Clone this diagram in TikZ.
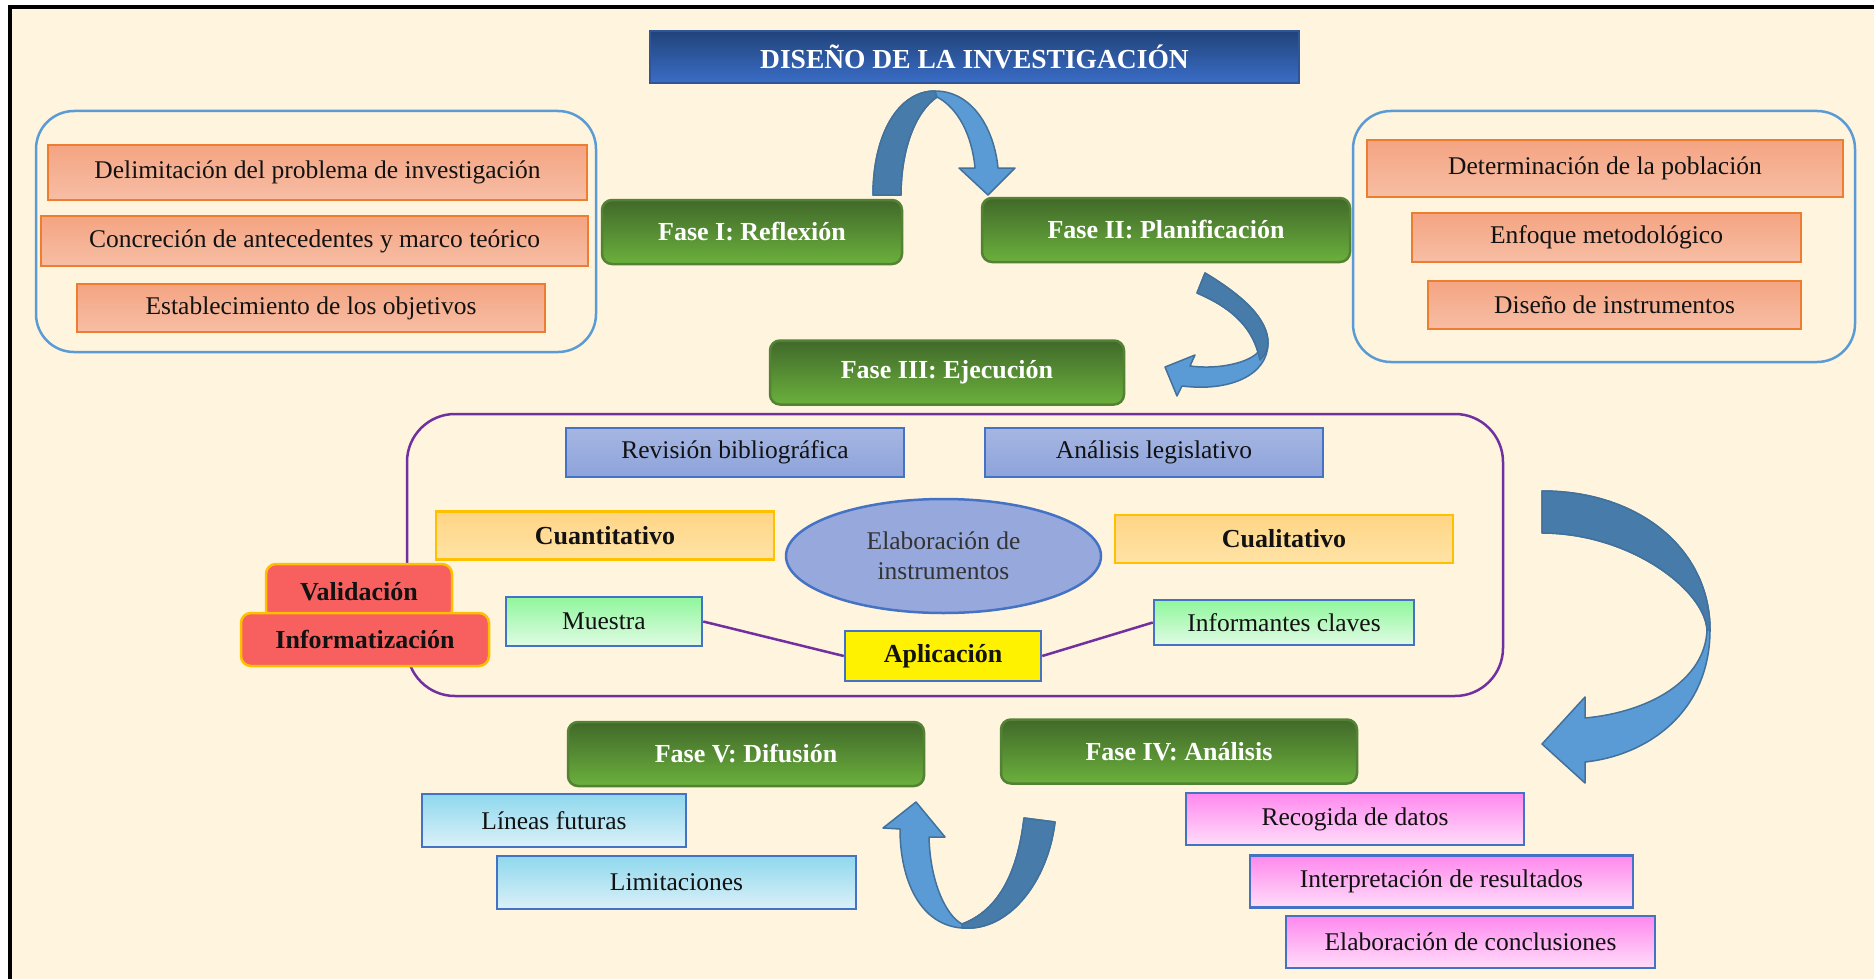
\documentclass[tikz,border=0pt]{standalone}
\usepackage{fontspec}
\setmainfont{Liberation Serif}
\usetikzlibrary{shapes.geometric}
\definecolor{paper}{HTML}{FFF4DD}
\definecolor{titletop}{HTML}{20437A}
\definecolor{titlebot}{HTML}{3B6DC8}
\definecolor{titleline}{HTML}{2F5597}
\definecolor{phasetop}{HTML}{41692A}
\definecolor{phasebot}{HTML}{6BB03C}
\definecolor{phaseline}{HTML}{548235}
\definecolor{salmontop}{HTML}{F4A482}
\definecolor{salmonbot}{HTML}{F7BEA5}
\definecolor{salmonline}{HTML}{ED7D31}
\definecolor{frameblue}{HTML}{5B9BD5}
\definecolor{boxline}{HTML}{4472C4}
\definecolor{purpleline}{HTML}{7030A0}
\definecolor{lavtop}{HTML}{A6B6E2}
\definecolor{lavbot}{HTML}{8EA3DB}
\definecolor{ellfill}{HTML}{97A9DC}
\definecolor{goldline}{HTML}{FFC000}
\definecolor{goldtop}{HTML}{FFD585}
\definecolor{goldbot}{HTML}{FFE3A6}
\definecolor{coral}{HTML}{F8605F}
\definecolor{minttop}{HTML}{8FF79C}
\definecolor{mintbot}{HTML}{E0FBE4}
\definecolor{skytop}{HTML}{8FD8EE}
\definecolor{skybot}{HTML}{DBF1F8}
\definecolor{pinktop}{HTML}{FF88EE}
\definecolor{pinkbot}{HTML}{FFDDF9}
\definecolor{arrowlight}{HTML}{5B9BD5}
\definecolor{arrowdark}{HTML}{467BAA}
\definecolor{arrowline}{HTML}{41719C}

\begin{document}
\begin{tikzpicture}[x=1pt, y=-1pt,
  every node/.style={inner sep=0pt, text=black!93, font=\fontsize{25.5}{30}\selectfont},
  boldtext/.style={font=\fontsize{26}{30}\selectfont\bfseries},
  titlebox/.style={draw=titleline, line width=2pt, top color=titletop, bottom color=titlebot,
    text=white, font=\fontsize{27.5}{30}\selectfont\bfseries},
  phase/.style={draw=phaseline, line width=2.5pt, rounded corners=10pt, top color=phasetop,
    bottom color=phasebot, text=white, boldtext, minimum height=64pt},
  salmonbox/.style={draw=salmonline, line width=2.5pt, top color=salmontop, bottom color=salmonbot},
  lavbox/.style={draw=boxline, line width=2.5pt, top color=lavtop, bottom color=lavbot,
    minimum width=338pt, minimum height=49pt},
  goldbox/.style={draw=goldline, line width=2.5pt, top color=goldtop, bottom color=goldbot,
    boldtext, minimum width=338pt, minimum height=48pt},
  redbox/.style={draw=goldline, line width=2.5pt, rounded corners=10pt, fill=coral, boldtext},
  mintbox/.style={draw=boxline, line width=2.5pt, top color=minttop, bottom color=mintbot},
  skybox/.style={draw=boxline, line width=2.5pt, top color=skytop, bottom color=skybot,
    minimum height=53pt},
  pinkbox/.style={draw=boxline, line width=2.5pt, top color=pinktop, bottom color=pinkbot,
    minimum height=52pt},
  holder/.style={line width=2.5pt},
  linkline/.style={purpleline, line width=2.5pt},
  bluearrow/.style={fill=arrowlight, draw=arrowline, line width=1.5pt, line join=round},
  darkarrow/.style={fill=arrowdark, draw=arrowline, line width=1.5pt, line join=round}]

  \useasboundingbox (0,0) rectangle (1874,979);
  % page
  \fill[paper] (9.5,7.5) rectangle (1874,979);
  \draw[black, line width=4pt] (9.5,979) -- (9.5,7.5) -- (1874,7.5);

  % title
  \node[titlebox, minimum width=649pt, minimum height=52pt] (title) at (974.5,57)
    {DISEÑO DE LA INVESTIGACIÓN};

  % phase I and its tasks
  \draw[holder, frameblue, rounded corners=38pt] (36,111) rectangle (596,352);
  \node[salmonbox, minimum width=539pt, minimum height=55pt] (delim) at (317.5,172.5)
    {Delimitación del problema de investigación};
  \node[salmonbox, minimum width=547pt, minimum height=50pt] (marco) at (314.5,241)
    {Concreción de antecedentes y marco teórico};
  \node[salmonbox, minimum width=468pt, minimum height=48pt] (objet) at (311,308)
    {Establecimiento de los objetivos};
  \node[phase, minimum width=300pt] (fase1) at (752,232) {Fase I: Reflexión};

  % phase II and its tasks
  \node[phase, minimum width=368pt] (fase2) at (1166,230) {Fase II: Planificación};
  \draw[holder, frameblue, rounded corners=38pt] (1353,111) rectangle (1855,362);
  \node[salmonbox, minimum width=476pt, minimum height=57pt] (pobla) at (1605,168.5)
    {Determinación de la población};
  \node[salmonbox, minimum width=389pt, minimum height=49pt] (enfoque) at (1606.5,237.5)
    {Enfoque metodológico};
  \node[salmonbox, minimum width=373pt, minimum height=48pt] (instru) at (1614.5,305)
    {Diseño de instrumentos};

  % phase III
  \node[phase, minimum width=354pt] (fase3) at (947,372.5) {Fase III: Ejecución};
  \draw[holder, purpleline, rounded corners=48pt] (407,414) rectangle (1503,696);
  \node[lavbox] (revis) at (735,452.5) {Revisión bibliográfica};
  \node[lavbox] (legis) at (1154,452.5) {Análisis legislativo};
  \node[goldbox] (cuanti) at (605,535.5) {Cuantitativo};
  \node[goldbox] (cuali) at (1284,539) {Cualitativo};
  \node[ellipse, draw=boxline, line width=2.5pt, fill=ellfill, minimum width=315pt,
    minimum height=114pt, align=center, text=black!80] (elabora) at (943.5,556)
    {Elaboración de\\instrumentos};
  \node[redbox, minimum width=186pt, minimum height=56pt] (valida) at (359,592) {Validación};
  \node[redbox, minimum width=248pt, minimum height=53pt] (informa) at (365,639.5)
    {Informatización};
  \node[mintbox, minimum width=196pt, minimum height=49pt] (muestra) at (604,621.5) {Muestra};
  \node[draw=boxline, line width=2.5pt, fill=yellow, boldtext, minimum width=196pt,
    minimum height=50pt] (aplica) at (943,656) {Aplicación};
  \node[mintbox, minimum width=260pt, minimum height=45pt] (clave) at (1284,622.5)
    {Informantes claves};
  \draw[linkline] (muestra.east) -- (aplica.west);
  \draw[linkline] (aplica.east) -- (clave.west);

  % phase IV and V
  \node[phase, minimum width=356pt] (fase4) at (1179,751.5) {Fase IV: Análisis};
  \node[phase, minimum width=356pt] (fase5) at (746,754) {Fase V: Difusión};
  \node[skybox, minimum width=264pt] (futuras) at (554,820.5) {Líneas futuras};
  \node[skybox, minimum width=359pt] (limita) at (676.5,882.5) {Limitaciones};
  \node[pinkbox, minimum width=338pt] (datos) at (1355,819) {Recogida de datos};
  \node[pinkbox, minimum width=383pt] (interp) at (1441.5,881.5) {Interpretación de resultados};
  \node[pinkbox, minimum width=369pt] (conclu) at (1470.5,942) {Elaboración de conclusiones};

  % curved arrows between the phases
  % I -> II
  \path[bluearrow] (873,195) .. controls (873,135) and (898,91) .. (935,91)
    .. controls (972,91) and (994,128) .. (998,168)
    -- (1015,168) -- (988,195) -- (959,168) -- (975,168)
    .. controls (972,135) and (958,108) .. (937,97)
    .. controls (915,112) and (901,150) .. (901,195) -- cycle;
  \path[darkarrow] (873,195) .. controls (873,135) and (898,91) .. (935,91)
    -- (937,97) .. controls (915,112) and (901,150) .. (901,195) -- cycle;
  % II -> III
  \path[bluearrow] (1205,273) .. controls (1245,297) and (1268,320) .. (1268,343)
    .. controls (1268,375) and (1230,392) .. (1182,386)
    -- (1177,396) -- (1165,367) -- (1195,355) -- (1190,366)
    .. controls (1220,370) and (1250,362) .. (1258,352)
    .. controls (1250,325) and (1230,307) .. (1197,293) -- cycle;
  \path[darkarrow] (1205,273) .. controls (1245,297) and (1268,320) .. (1268,343)
    .. controls (1268,350) and (1265,355) .. (1260,360)
    -- (1258,352) .. controls (1250,325) and (1230,307) .. (1197,293) -- cycle;
  % III -> IV
  \path[bluearrow] (1542,491) .. controls (1640,491) and (1710,550) .. (1710,630)
    .. controls (1710,710) and (1650,755) .. (1585,762)
    -- (1585,783) -- (1542,744) -- (1585,697) -- (1585,718)
    .. controls (1650,712) and (1705,680) .. (1707,630)
    .. controls (1705,590) and (1630,533) .. (1542,533) -- cycle;
  \path[darkarrow] (1542,491) .. controls (1640,491) and (1710,550) .. (1710,630)
    -- (1707,630) .. controls (1705,590) and (1630,533) .. (1542,533) -- cycle;
  % IV -> V
  \path[bluearrow] (1055,822) .. controls (1048,880) and (1010,932) .. (962,928)
    .. controls (920,925) and (900,880) .. (900,829)
    -- (883,828) -- (916,802) -- (945,837) -- (929,837)
    .. controls (930,880) and (945,915) .. (962,924)
    .. controls (1000,910) and (1018,870) .. (1024,818) -- cycle;
  \path[darkarrow] (1055,822) .. controls (1048,880) and (1010,932) .. (962,928)
    -- (962,924) .. controls (1000,910) and (1018,870) .. (1024,818) -- cycle;
\end{tikzpicture}
\end{document}
